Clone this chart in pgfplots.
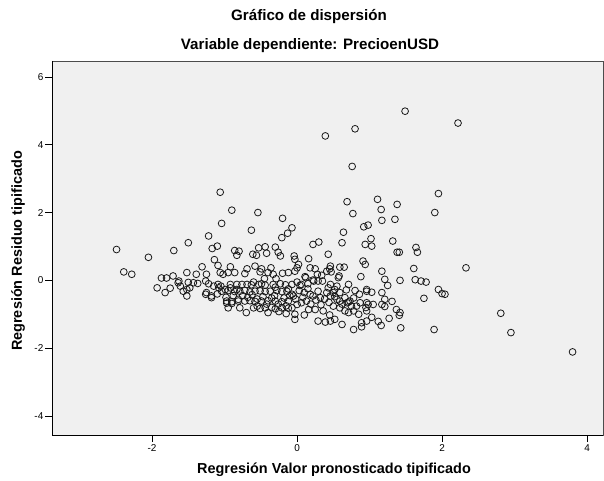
\documentclass[border=0pt]{standalone}
\usepackage{fontspec}
\setmainfont{Liberation Sans}
\usepackage{pgfplots}
\usepackage{pgfplotstable}
\pgfplotsset{compat=1.18}
\pgfplotstableread{
x y
1.49 4.99
2.22 4.64
0.80 4.47
0.39 4.26
0.76 3.36
-1.06 2.60
1.95 2.56
0.69 2.32
1.11 2.39
1.38 2.24
-0.90 2.07
-0.54 2.00
0.77 1.97
1.90 2.00
1.16 2.09
-0.20 1.83
1.35 1.80
1.17 1.77
-1.04 1.68
0.98 1.63
0.92 1.58
-0.07 1.55
-0.63 1.48
0.64 1.42
-0.13 1.39
-1.22 1.31
-0.21 1.26
1.02 1.23
1.32 1.16
0.30 1.13
0.62 1.11
-1.50 1.11
0.22 1.06
0.94 1.06
1.03 1.01
-1.10 1.01
-0.44 0.99
-0.30 0.98
1.64 0.97
-0.53 0.96
-1.17 0.94
-2.49 0.91
-1.70 0.88
-0.86 0.88
-0.80 0.86
1.38 0.83
1.41 0.83
1.66 0.83
-0.26 0.83
-0.42 0.80
0.43 0.77
-0.61 0.77
-0.56 0.74
-0.83 0.74
-0.04 0.72
-0.23 0.72
-2.05 0.68
0.16 0.64
-0.03 0.62
-1.14 0.61
0.91 0.57
0.94 0.47
0.02 0.47
-1.09 0.44
-0.58 0.42
0.46 0.42
-0.92 0.40
-1.31 0.40
0.59 0.39
0.65 0.39
0.18 0.37
-0.36 0.37
0.00 0.37
2.33 0.37
1.61 0.35
-0.69 0.34
-0.49 0.34
0.25 0.34
0.45 0.34
0.41 0.27
1.17 0.27
-0.03 0.27
0.47 0.25
-2.39 0.25
-0.51 0.25
-1.52 0.23
-1.06 0.23
-0.95 0.23
-0.86 0.23
-0.40 0.23
-0.12 0.23
-0.20 0.21
-0.72 0.20
-2.28 0.18
-1.39 0.18
-1.25 0.18
-1.02 0.18
-0.33 0.18
0.28 0.18
-1.71 0.13
0.58 0.13
0.11 0.11
0.88 0.11
-1.87 0.07
-1.80 0.07
0.12 0.08
0.57 0.08
-0.29 0.05
1.21 0.03
1.63 0.02
0.22 0.01
1.42 0.00
-1.63 -0.02
0.23 -0.02
0.29 -0.02
0.35 -0.02
1.71 -0.02
-1.26 -0.02
1.78 -0.05
-1.50 -0.06
-1.43 -0.07
-1.64 -0.07
-1.37 -0.09
-1.22 -0.10
-1.09 -0.12
-0.92 -0.12
-0.83 -0.12
-0.76 -0.12
-0.69 -0.12
-0.63 -0.13
-0.53 -0.12
-0.49 -0.10
-0.44 -0.14
-0.33 -0.12
-0.23 -0.10
-0.16 -0.13
-0.07 -0.12
0.06 -0.12
0.46 -0.12
0.71 -0.12
1.25 -0.15
0.04 -0.15
-1.61 -0.17
0.55 -0.17
-1.05 -0.17
-1.15 -0.17
-1.93 -0.22
-1.75 -0.23
-1.48 -0.22
-1.08 -0.22
-0.92 -0.22
0.43 -0.22
-1.52 -0.27
-0.99 -0.27
-0.83 -0.27
1.95 -0.27
0.96 -0.27
0.52 -0.27
-1.04 -0.32
-0.95 -0.30
-0.86 -0.33
-0.79 -0.32
-0.72 -0.30
-0.65 -0.34
-0.58 -0.32
-0.51 -0.31
-0.44 -0.33
-0.37 -0.32
-0.28 -0.30
-0.21 -0.33
-0.14 -0.32
0.29 -0.32
0.96 -0.32
1.03 -0.35
1.17 -0.36
0.50 -0.36
0.10 -0.36
0.41 -0.36
0.59 -0.36
-1.82 -0.36
-1.57 -0.32
-1.25 -0.36
2.00 -0.39
2.04 -0.41
-1.26 -0.41
0.86 -0.41
-0.07 -0.41
0.18 -0.41
-0.05 -0.46
0.22 -0.46
0.46 -0.46
-1.52 -0.46
-1.18 -0.46
-1.18 -0.51
0.32 -0.51
0.66 -0.51
1.75 -0.53
-0.81 -0.56
0.55 -0.56
1.21 -0.56
-0.97 -0.61
-0.90 -0.63
-0.81 -0.61
-0.72 -0.61
-0.65 -0.60
-0.58 -0.62
-0.49 -0.61
-0.40 -0.60
-0.30 -0.61
-0.21 -0.63
-0.12 -0.61
0.13 -0.61
0.73 -0.61
0.59 -0.61
-0.90 -0.68
-0.97 -0.67
0.06 -0.66
0.69 -0.66
0.87 -0.66
0.96 -0.66
0.71 -0.64
1.31 -0.62
0.00 -0.71
0.98 -0.71
1.05 -0.71
1.17 -0.71
0.50 -0.76
0.75 -0.76
0.82 -0.76
1.21 -0.77
-0.55 -0.76
-0.95 -0.81
-0.79 -0.81
-0.60 -0.81
-0.51 -0.83
-0.44 -0.81
-0.35 -0.80
-0.30 -0.84
-0.21 -0.81
-0.12 -0.82
-0.07 -0.81
0.59 -0.81
0.95 -0.80
0.16 -0.86
0.25 -0.86
1.37 -0.86
-0.25 -0.92
-0.40 -0.95
0.36 -0.90
0.66 -0.90
0.78 -0.90
0.96 -0.90
0.71 -0.95
1.42 -0.95
2.81 -0.97
-0.03 -1.00
0.85 -1.00
1.41 -1.03
1.03 -1.09
1.27 -1.12
-0.03 -1.15
0.52 -1.15
0.29 -1.20
0.46 -1.20
0.96 -1.20
1.12 -1.21
0.39 -1.23
0.89 -1.25
0.62 -1.30
1.16 -1.33
0.89 -1.37
1.43 -1.40
0.78 -1.45
1.89 -1.45
2.95 -1.54
3.80 -2.11
-0.75 -0.45
-0.68 -0.50
-0.62 -0.42
-0.55 -0.55
-0.47 -0.48
-0.42 -0.70
-0.35 -0.52
-0.31 -0.45
-0.26 -0.70
-0.18 -0.52
-0.15 -0.75
-0.10 -0.45
-0.02 -0.55
0.03 -0.30
0.08 -0.50
0.15 -0.25
0.19 -0.70
0.26 -0.58
0.33 -0.72
0.38 -0.55
0.44 -0.65
0.52 -0.48
0.62 -0.70
0.68 -0.28
0.78 -0.52
0.80 -0.30
-0.88 -0.45
-0.98 -0.50
-1.10 -0.40
-0.60 -0.05
-0.45 0.05
-0.30 -0.20
-0.12 -0.25
0.00 -0.05
0.15 -0.10
0.34 0.15
-0.70 -0.95
-0.15 -0.98
0.10 -1.02
0.45 -1.02
}\datatable
\begin{document}
\begin{tikzpicture}[x=1bp,y=1bp]
\path[use as bounding box] (0,0) rectangle (604,481);
\begin{axis}[
  at={(52bp,46bp)}, anchor=south west,
  scale only axis, width=551bp, height=374bp,
  xmin=-3.38, xmax=4.22, ymin=-4.56, ymax=6.47,
  axis background/.style={fill=black!6},
  axis line style={black!70, line width=0.8bp},
  xtick={-2,0,2,4}, xticklabels={-2,0,2,4},
  ytick={-4,-2,0,2,4,6}, yticklabels={-4,-2,0,2,4,6},
  xtick pos=bottom, ytick pos=left,
  tick align=outside, major tick length=7bp,
  tick style={black, line width=0.8bp},
  ticklabel style={font=\fontsize{10}{12}\selectfont, text=black},
  yticklabel style={inner xsep=1.5bp},
  xticklabel style={inner ysep=2bp},
  clip=false,
]
\addplot[only marks, mark=o, mark size=3.4bp,
  mark options={line width=0.8bp, draw=black!90}] table[x=x, y=y] {\datatable};
\draw[black, line width=0.9bp] (rel axis cs:0,1) -- (rel axis cs:0,0) -- (rel axis cs:1,0);
\end{axis}
\node[inner sep=0, font=\bfseries\fontsize{15.2}{18}\selectfont] at (309,464) {Gráfico de dispersión};
\node[inner sep=0, font=\bfseries\fontsize{15.2}{18}\selectfont] at (310,435) {Variable dependiente: PrecioenUSD};
\node[inner sep=0, font=\bfseries\fontsize{14.5}{17}\selectfont] at (334,11) {Regresión Valor pronosticado tipificado};
\node[inner sep=0, rotate=90, font=\bfseries\fontsize{14.5}{17}\selectfont] at (18,230) {Regresión Residuo tipificado};
\end{tikzpicture}
\end{document}
